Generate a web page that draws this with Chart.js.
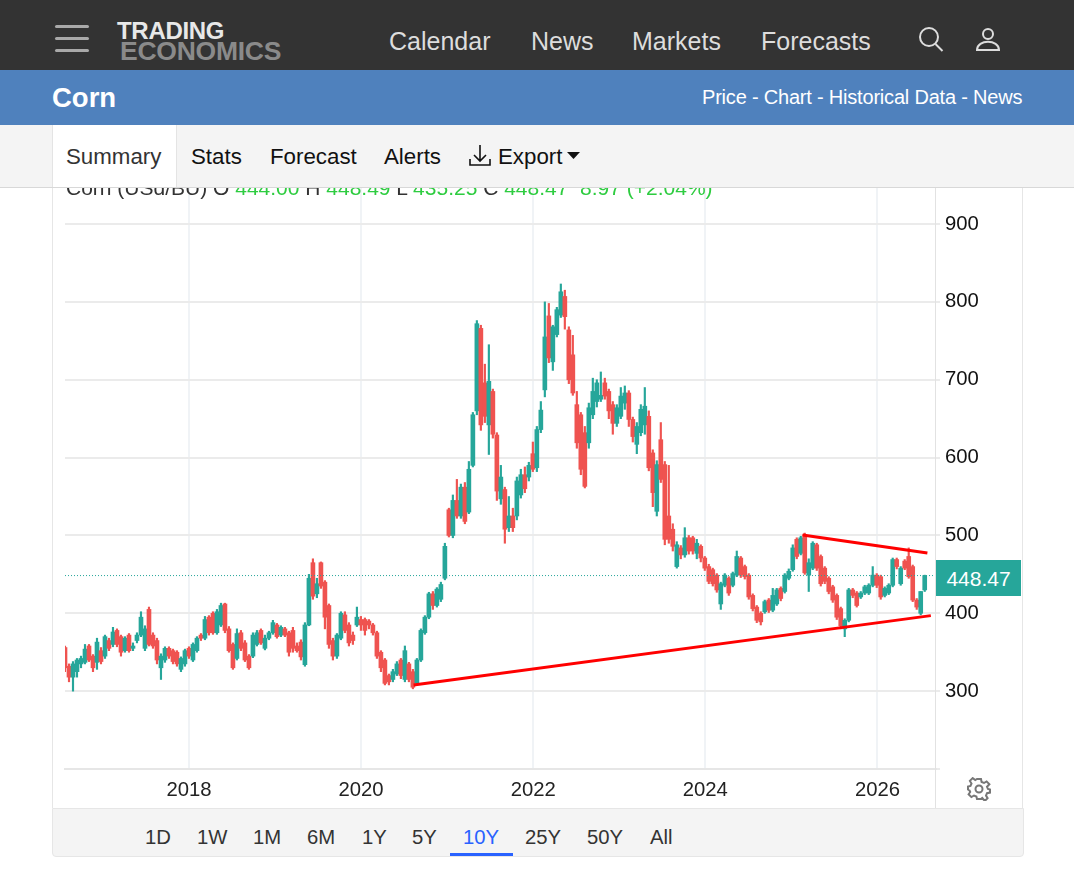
<!DOCTYPE html>
<html>
<head>
<meta charset="utf-8">
<title>Corn</title>
<script src="https://cdn.jsdelivr.net/npm/chart.js@4"></script>
<style>
html, body { margin: 0; padding: 0; background: #fff; overflow: hidden; }
body { width: 1074px; height: 891px; position: relative; font-family: "Liberation Sans", Arial, sans-serif; }
.abs { position: absolute; white-space: nowrap; }
#chart_box { position: absolute; left: 52px; top: 188px; width: 970px; height: 620px; }
#top_bar { left: 0; top: 0; width: 1074px; height: 70px; background: #333; z-index: 3; }
#blue_bar { left: 0; top: 70px; width: 1074px; height: 55px; background: #4f81bd; z-index: 3; }
#tab_bar { left: 0; top: 125px; width: 1074px; height: 62px; background: #f4f4f4; border-bottom: 1px solid #d8d8d8; z-index: 3; }
#summary_tab { left: 52px; top: 0; width: 125px; height: 62px; background: #fff; border-right: 1px solid #e4e4e4; border-left: 1px solid #e4e4e4; box-sizing: border-box; }
.nav { color: #ddd; font-size: 25px; top: 27px; }
.tab { color: #111; font-size: 22.300px; top: 19px; }
.range { color: #333; font-size: 20.300px; top: 826px; z-index: 2; }
.burger { left: 55px; width: 34px; height: 3px; background: #a9a9a9; border-radius: 2px; }
.up { color: #2ecc40; }
</style>
</head>
<body>

<div class="abs" id="info_line" style="left:66px;top:176px;font-size:21px;color:#333;z-index:1">Corn (USd/BU) O <span class="up">444.00</span> H <span class="up">448.49</span> L <span class="up">435.25</span> C <span class="up">448.47</span>&nbsp; <span class="up">8.97</span> <span class="up">(+2.04%)</span></div>

<div id="chart_box"><canvas id="chart" width="970" height="620"></canvas></div>

<div class="abs" id="top_bar">
    <div class="abs burger" style="top:25px"></div>
    <div class="abs burger" style="top:37px"></div>
    <div class="abs burger" style="top:49px"></div>
    <div class="abs" style="left:117px;top:17px;font-size:24px;font-weight:bold;color:#e8e8e8;letter-spacing:-0.3px">TRADING</div>
    <div class="abs" style="left:120px;top:36px;font-size:26.500px;font-weight:bold;color:#8a8a8a;letter-spacing:-0.25px">ECONOMICS</div>
    <div class="abs nav" style="left:389px">Calendar</div>
    <div class="abs nav" style="left:531px">News</div>
    <div class="abs nav" style="left:632px">Markets</div>
    <div class="abs nav" style="left:761px">Forecasts</div>
    <svg class="abs" style="left:917px;top:26px" width="28" height="28" viewBox="0 0 28 28" fill="none" stroke="#ddd" stroke-width="2"><circle cx="12" cy="11" r="9"/><path d="M18.5 18l7 7"/></svg>
    <svg class="abs" style="left:974px;top:26px" width="28" height="28" viewBox="0 0 28 28" fill="none" stroke="#ddd" stroke-width="2"><circle cx="14" cy="8" r="5"/><path d="M3 24c0-11 22-11 22 0z"/></svg>
</div>

<div class="abs" id="blue_bar">
    <div class="abs" style="left:52px;top:12px;font-size:27.500px;font-weight:bold;color:#fff">Corn</div>
    <div class="abs" style="left:702px;top:16px;font-size:20px;color:#fff;letter-spacing:-0.2px">Price - Chart - Historical Data - News</div>
</div>

<div class="abs" id="tab_bar">
    <div class="abs" id="summary_tab"></div>
    <div class="abs tab" style="left:66px;color:#333">Summary</div>
    <div class="abs tab" style="left:191px">Stats</div>
    <div class="abs tab" style="left:270px">Forecast</div>
    <div class="abs tab" style="left:384px">Alerts</div>
    <svg class="abs" style="left:468px;top:19px" width="24" height="24" viewBox="0 0 24 24" fill="none" stroke="#111" stroke-width="1.6"><path d="M12 1v16M6 11l6 6 6-6M2 15v6h20v-6"/></svg>
    <div class="abs tab" style="left:498px">Export</div>
    <svg class="abs" style="left:567px;top:27px" width="14" height="8" viewBox="0 0 14 8"><path d="M0 0h13L6.500 7z" fill="#111"/></svg>
</div>

<div class="abs" style="left:52px;top:188px;width:1px;height:620px;background:#e6e6e6"></div>
<div class="abs" style="left:1022px;top:188px;width:1px;height:620px;background:#e6e6e6"></div>
<div class="abs" style="left:935px;top:188px;width:1px;height:620px;background:#e2e2e2"></div>

<div class="abs" style="left:936px;top:560px;width:85px;height:36px;line-height:37px;background:#26a69a;color:#fff;font-size:21px;text-align:center;z-index:2">448.47</div>

<svg class="abs" style="left:967px;top:777px" width="24" height="24" viewBox="0 0 24 24" fill="none" stroke="#777" stroke-width="2"><circle cx="12" cy="12" r="3.500"/><path d="M10 2h4l.6 3 2.400 1 2.600-1.600 2.800 2.800L20 9.800l1 2.200 2 .6v3l-3 .6-1 2.400 1.600 2.600-2.800 2.800L15.200 21 14 22h-4l-.6-2.500-2.400-1-2.600 1.600-2.800-2.800L3.200 15 2.500 13.500 1 12.500v-3l2.500-.6 1-2.400-1.600-2.600 2.800-2.800L8.300 3z"/></svg>

<div class="abs" style="left:52px;top:808px;width:970px;height:47px;background:#f4f4f4;border:1px solid #e6e6e6;border-radius:0 0 4px 4px;box-sizing:content-box"></div>
<div class="abs range" style="left:145px">1D</div>
<div class="abs range" style="left:197px">1W</div>
<div class="abs range" style="left:253px">1M</div>
<div class="abs range" style="left:307px">6M</div>
<div class="abs range" style="left:362px">1Y</div>
<div class="abs range" style="left:412px">5Y</div>
<div class="abs range" style="left:463px;color:#2962ff">10Y</div>
<div class="abs range" style="left:525px">25Y</div>
<div class="abs range" style="left:587px">50Y</div>
<div class="abs range" style="left:650px">All</div>
<div class="abs" style="left:450px;top:853px;width:63px;height:3px;background:#2962ff;z-index:2"></div>

<script>
Chart.defaults.font.family = '"Liberation Sans", Arial, sans-serif';
Chart.defaults.animation = false;

// price candles, one every 17 days or so
const first_year = 2016.56;
const years_per_candle = 0.04646;

const opens = [
    356,332,318,325,335,337,358,345,337,352,
    345,365,360,378,370,352,372,355,365,372,
    355,405,372,365,330,340,355,352,350,328,
    335,355,340,352,372,368,395,400,375,385,
    412,380,360,342,375,362,345,345,360,378,
    355,368,375,385,372,380,375,378,358,363,
    334,385,465,425,465,440,410,365,345,368,
    398,385,372,385,392,392,390,385,375,350,
    340,320,315,322,340,315,335,325,310,340,
    375,395,425,410,418,445,533,500,545,525,
    562,530,590,660,766,696,642,685,629,547,
    559,510,525,525,552,578,575,605,587,636,
    687,782,723,758,783,807,764,732,668,655,
    632,619,655,672,675,696,685,668,644,653,
    670,683,649,617,632,642,653,606,531,623,
    591,525,508,460,484,475,497,497,477,486,
    471,460,456,449,412,436,445,436,449,471,
    460,449,423,408,400,402,417,404,412,432,
    428,445,456,495,477,501,449,458,488,473,
    458,445,434,423,406,380,391,430,426,421,
    426,426,436,449,447,423,426,436,469,438,
    467,473,460,417,400,430
];
const highs = [
    358,335,338,342,345,360,360,347,368,356,
    372,368,382,380,372,370,374,362,375,402,
    384,408,375,368,348,357,357,354,352,344,
    354,357,362,370,374,396,397,402,405,413,
    413,383,362,380,378,365,347,375,378,380,
    372,377,391,387,384,382,377,382,362,366,
    388,450,470,445,466,442,412,368,374,402,
    402,388,376,408,396,394,392,387,377,352,
    342,322,328,338,342,358,337,328,342,380,
    397,427,428,433,440,490,535,552,572,566,
    568,595,658,776,770,720,745,688,632,590,
    562,550,535,575,585,588,594,620,640,672,
    800,798,770,793,823,815,768,757,685,658,
    640,670,702,700,710,702,688,672,668,690,
    692,686,652,645,668,690,660,610,596,645,
    595,590,515,492,487,510,500,499,495,488,
    473,463,458,451,440,451,447,453,480,473,
    462,451,425,410,402,417,419,432,432,434,
    451,457,488,497,499,503,470,492,490,475,
    460,447,436,425,408,393,432,432,428,428,
    436,438,460,451,449,434,438,471,471,460,
    469,484,462,419,428,449
];
const lows = [
    325,312,300,318,330,335,338,325,328,335,
    342,352,357,357,345,350,350,352,362,370,
    352,358,355,335,315,337,342,335,332,325,
    332,342,338,350,365,366,372,373,373,383,
    375,350,328,340,352,338,328,343,358,360,
    353,366,373,368,370,370,345,350,350,340,
    332,384,418,420,432,380,355,340,342,366,
    375,358,360,383,378,372,380,372,342,325,
    308,308,312,320,316,312,312,303,308,338,
    373,393,405,408,415,443,498,497,522,522,
    515,528,588,655,635,645,604,625,545,540,
    490,505,505,520,548,555,570,582,582,632,
    678,722,712,755,780,765,695,680,612,578,
    561,612,650,665,672,675,650,630,640,650,
    662,640,620,605,628,630,583,537,525,568,
    488,490,480,458,470,472,476,476,470,466,
    455,438,435,427,405,434,423,434,447,446,
    444,418,403,388,385,400,401,402,410,416,
    426,443,454,470,475,450,428,456,455,435,
    438,425,414,392,380,370,389,420,408,419,
    424,424,434,433,418,421,424,434,457,436,
    456,445,415,405,398,428
];
const closes = [
    330,318,335,340,342,354,340,330,363,338,
    370,355,376,360,350,368,352,358,372,395,
    380,360,358,340,345,355,345,338,335,342,
    352,345,360,368,368,392,375,375,402,410,
    378,352,330,374,355,340,330,372,375,362,
    368,375,388,370,382,372,350,355,352,344,
    385,445,422,438,435,395,360,345,372,400,
    378,362,365,395,385,378,385,375,345,330,
    310,312,325,335,320,352,315,305,340,378,
    395,425,410,431,437,486,500,545,525,562,
    518,585,655,772,642,653,698,630,557,575,
    508,525,510,570,578,560,590,585,636,661,
    755,728,768,790,813,781,700,683,619,585,
    563,664,685,696,680,679,660,644,664,679,
    683,649,627,640,662,666,587,555,591,572,
    495,495,486,488,475,497,480,480,490,471,
    458,441,438,430,438,449,426,451,473,449,
    447,421,406,391,389,415,404,423,430,419,
    449,454,484,473,497,452,465,490,458,438,
    441,428,417,395,384,391,430,423,410,426,
    434,436,449,436,421,432,436,469,460,458,
    458,447,417,408,428,448.47
];

// trend lines drawn by hand on the original
const lower_trend_years = [2020.61, 2026.62];
const lower_trend_values = [308, 397];
const upper_trend_years = [2025.13, 2026.58];
const upper_trend_values = [500.5, 477.5];

const last_price = 448.47;
const x_min = 2016.56;
const x_max = 2026.68;
const y_min = 200;
const y_max = 946.3;

const color_up = '#26a69a';
const color_down = '#ef5350';

const candle_years = closes.map((_, i) => first_year + i * years_per_candle);
const candle_colors = closes.map((close, i) => close >= opens[i] ? color_up : color_down);

function to_points(years, values) {
    return years.map((year, i) => ({ x: year, y: values[i] }));
}

// the axis labels must not push the plot area away from the canvas edges
function no_label_padding(scale) {
    scale.paddingTop = 0;
    scale.paddingBottom = 0;
    scale.paddingLeft = 0;
    scale.paddingRight = 0;
}

new Chart(document.getElementById('chart'), {
    type: 'bar',
    data: {
        datasets: [
            {
                label: 'wicks',
                data: candle_years.map((year, i) => ({ x: year, y: [lows[i], highs[i]] })),
                backgroundColor: candle_colors,
                barThickness: 1.5,
                grouped: false,
                order: 3
            },
            {
                label: 'bodies',
                data: candle_years.map((year, i) => ({ x: year, y: [opens[i], closes[i]] })),
                backgroundColor: candle_colors,
                barThickness: 4,
                grouped: false,
                order: 2
            },
            {
                type: 'line',
                label: 'last',
                data: to_points([x_min, x_max], [last_price, last_price]),
                borderColor: color_up,
                borderWidth: 1,
                borderDash: [1, 2],
                pointRadius: 0,
                order: 1
            },
            {
                type: 'line',
                label: 'lower trend',
                data: to_points(lower_trend_years, lower_trend_values),
                borderColor: '#ff0000',
                borderWidth: 3,
                pointRadius: 0,
                order: 0
            },
            {
                type: 'line',
                label: 'upper trend',
                data: to_points(upper_trend_years, upper_trend_values),
                borderColor: '#ff0000',
                borderWidth: 3,
                pointRadius: 0,
                order: 0
            }
        ]
    },
    options: {
        responsive: false,
        layout: { padding: { left: 13 }, autoPadding: false },
        plugins: { legend: { display: false }, tooltip: { enabled: false } },
        scales: {
            x: {
                type: 'linear',
                min: x_min,
                max: x_max,
                offset: false,
                grid: { offset: false, color: '#f0f3f6', lineWidth: 2, drawTicks: false },
                border: { color: '#e6e6e6', width: 2 },
                afterFit: scale => { scale.height = 39; no_label_padding(scale); },
                ticks: {
                    stepSize: 2,
                    includeBounds: false,
                    autoSkip: false,
                    maxRotation: 0,
                    padding: 9,
                    color: '#222',
                    font: { size: 20.3 },
                    callback: value => String(value)
                }
            },
            y: {
                position: 'right',
                min: y_min,
                max: y_max,
                grid: { color: '#ebebeb', lineWidth: 2, tickLength: 4 },
                border: { display: false },
                afterFit: scale => { scale.width = 86; no_label_padding(scale); },
                ticks: {
                    stepSize: 100,
                    includeBounds: false,
                    crossAlign: 'near',
                    padding: 5,
                    color: '#111',
                    font: { size: 20.3 },
                    callback: value => value === y_min ? '' : String(value)
                }
            }
        }
    }
});
</script>
</body>
</html>
